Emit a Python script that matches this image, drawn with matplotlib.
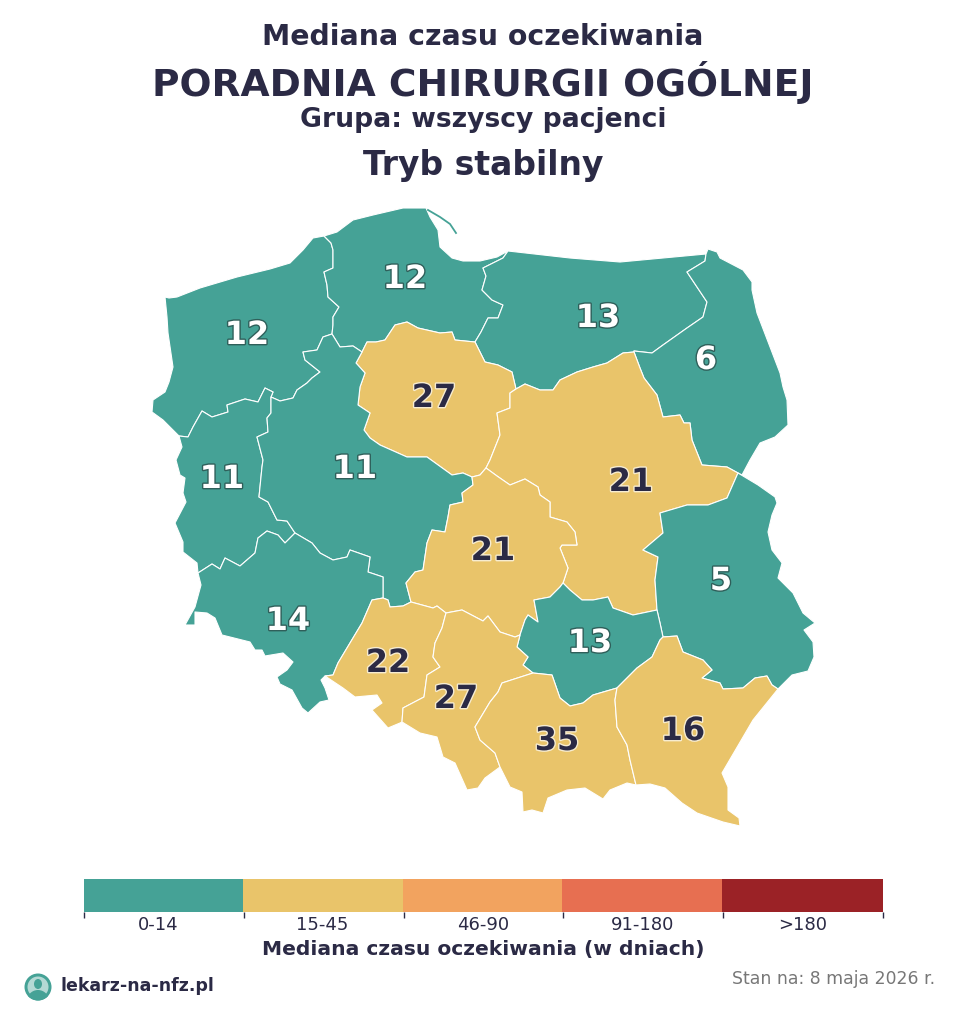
import matplotlib
matplotlib.use("Agg")
import matplotlib.pyplot as plt
import matplotlib.patheffects as pe
from matplotlib.cm import ScalarMappable
from matplotlib.colors import BoundaryNorm, ListedColormap
from matplotlib.patches import Circle, Ellipse, Wedge

DARK = "#2b2a45"
BIN_LABELS = ["0-14", "15-45", "46-90", "91-180", ">180"]
BIN_EDGES = [0, 15, 46, 91, 181, 400]
BIN_COLORS = ["#45a296", "#e9c46a", "#f2a35f", "#e76f51", "#9b2226"]
BIN_LABEL_POS = [0.465, 1.49, 2.5, 3.495, 4.5]

# border pieces, in picture pixels (y goes down)
coast_zach = [(324, 236), (313, 238), (303, 250), (290, 263), (270, 269), (237, 277), (200, 288), (177, 297),
              (169, 298), (165, 297), (167, 317), (168, 333), (173, 367), (169, 382), (165, 392), (153, 400),
              (152, 412), (163, 420), (179, 436)]
zach_pom = [(324, 236), (331, 243), (333, 250), (333, 268), (324, 272), (327, 285), (328, 297), (339, 307),
            (333, 317), (333, 325), (332, 334)]
zach_wlkp = [(332, 334), (323, 337), (317, 350), (303, 352), (305, 360), (320, 372), (312, 378), (307, 383),
             (297, 390), (293, 398), (280, 401), (271, 397)]
zach_lub = [(271, 397), (273, 392), (265, 388), (258, 402), (245, 399), (227, 405), (228, 412), (212, 417),
            (202, 411), (193, 427), (188, 437), (179, 436)]
coast_pom = [(324, 236), (337, 232), (353, 220), (373, 215), (403, 208), (426, 208), (430, 217), (438, 230),
             (440, 247), (452, 258), (463, 261), (480, 261), (497, 257), (508, 251)]
hel_line = [(428, 210), (440, 217), (450, 224), (456, 233)]
pom_warm = [(508, 251), (503, 258), (483, 268), (486, 276), (482, 290), (492, 300), (503, 305), (498, 318),
            (488, 318), (481, 332), (475, 342)]
pom_wlkp = [(332, 334), (340, 347), (353, 346), (362, 352)]
kuj_pom = [(362, 352), (367, 342), (376, 342), (385, 340), (395, 325), (407, 322), (418, 328), (440, 333),
           (452, 332), (455, 340), (475, 342)]
kuj_warm = [(475, 342), (480, 352), (485, 362), (498, 365), (512, 372), (516, 389)]
warm_north = [(508, 251), (570, 258), (620, 262), (706, 254)]
warm_maz = [(516, 389), (525, 384), (540, 390), (553, 390), (560, 380), (577, 372), (593, 367), (607, 363),
            (623, 353), (634, 352)]
warm_podl = [(706, 254), (705, 261), (687, 272), (697, 287), (707, 302), (703, 317), (687, 328), (663, 345),
             (652, 353), (634, 351)]
podl_east = [(706, 254), (708, 249), (717, 252), (720, 258), (743, 270), (752, 282), (752, 290), (757, 313),
             (780, 373), (783, 387), (787, 400), (788, 425), (775, 437), (760, 443), (750, 460), (742, 475),
             (738, 473)]
podl_maz = [(634, 352), (640, 368), (644, 378), (657, 395), (663, 417), (680, 415), (684, 423), (690, 423),
            (692, 440), (702, 465), (727, 467), (738, 473)]
kuj_maz = [(516, 389), (510, 393), (510, 408), (497, 413), (500, 435), (490, 460), (486, 468)]
kuj_wlkp = [(362, 352), (356, 363), (365, 373), (360, 387), (358, 405), (370, 413), (364, 430), (370, 438),
            (380, 445), (407, 457), (427, 457), (452, 475), (463, 473), (472, 477)]
kuj_lodz = [(472, 477), (480, 475), (486, 468)]
lodz_maz = [(486, 468), (497, 476), (510, 485), (525, 479), (538, 487), (540, 495), (550, 502), (550, 517),
            (567, 522), (575, 532), (577, 545), (562, 545), (560, 548), (568, 568), (563, 583)]
maz_lub = [(738, 473), (727, 498), (708, 505), (687, 505), (660, 513), (663, 533), (643, 550), (658, 557),
           (655, 580), (657, 610)]
swiet_maz = [(563, 583), (570, 590), (582, 600), (593, 600), (608, 597), (613, 608), (633, 615), (657, 610)]
wlkp_lodz = [(472, 477), (473, 485), (462, 493), (463, 502), (450, 505), (448, 517), (445, 532), (432, 530),
             (427, 543), (423, 570), (415, 572), (406, 583), (411, 602)]
lodz_opole = [(411, 602), (433, 608), (437, 606), (446, 613)]
lodz_slask = [(446, 613), (462, 610), (483, 621), (488, 616), (500, 632), (515, 637), (520, 635)]
lodz_swiet = [(520, 635), (525, 620), (528, 615), (538, 622), (534, 600), (550, 597), (560, 587), (563, 583)]
opole_wlkp = [(383, 598), (388, 600), (390, 607), (403, 606), (411, 602)]
wlkp_dol = [(295, 533), (312, 543), (320, 553), (333, 560), (347, 557), (350, 550), (370, 557), (368, 572),
            (383, 577), (383, 598)]
lub_wlkp = [(271, 397), (271, 413), (267, 418), (268, 432), (257, 437), (263, 460), (262, 467), (259, 497),
            (268, 502), (277, 520), (287, 521), (295, 533)]
lub_dol = [(295, 533), (285, 543), (278, 535), (267, 531), (258, 538), (255, 553), (240, 566), (225, 558),
           (220, 569), (212, 564), (198, 573)]
lub_west = [(179, 436), (182, 447), (176, 460), (180, 475), (185, 478), (183, 493), (186, 502), (175, 523),
            (183, 542), (183, 552), (197, 563), (198, 573)]
dol_south = [(198, 573), (201, 585), (195, 607), (185, 625), (195, 625), (195, 612), (207, 613), (215, 618),
             (222, 635), (250, 642), (255, 650), (262, 650), (265, 656), (283, 653), (293, 662), (287, 670),
             (277, 677), (280, 684), (292, 690), (302, 708), (308, 713), (320, 702), (329, 700), (325, 688),
             (321, 680), (325, 676)]
dol_opole = [(383, 598), (372, 600), (362, 623), (350, 643), (338, 663), (333, 675), (325, 676)]
opole_south = [(325, 676), (343, 688), (355, 697), (377, 695), (382, 703), (372, 710), (388, 728), (400, 723),
               (402, 722)]
opole_slask = [(446, 613), (442, 628), (435, 643), (433, 657), (440, 667), (427, 675), (424, 697), (403, 708),
               (402, 722)]
slask_south = [(402, 722), (420, 733), (437, 737), (443, 757), (455, 763), (467, 790), (478, 788), (485, 778),
               (500, 767)]
slask_swiet = [(520, 635), (517, 647), (528, 657), (523, 665), (533, 673)]
slask_malop = [(533, 673), (502, 683), (498, 692), (490, 702), (475, 727), (480, 740), (495, 753), (500, 767)]
malop_swiet = [(533, 673), (552, 675), (560, 698), (570, 706), (583, 703), (593, 695), (617, 688)]
malop_podk = [(617, 688), (615, 700), (617, 727), (627, 745), (630, 760), (636, 785)]
malop_south = [(500, 767), (503, 773), (510, 787), (522, 792), (523, 812), (532, 810), (543, 813), (548, 798),
               (567, 790), (585, 788), (603, 799), (610, 790), (627, 783), (636, 785)]
swiet_podk = [(617, 688), (637, 668), (652, 657), (660, 640), (663, 637)]
swiet_lub = [(657, 610), (660, 623), (663, 637)]
podk_lub = [(663, 637), (677, 636), (683, 652), (703, 660), (712, 670), (702, 678), (720, 683), (723, 689),
            (743, 688), (755, 678), (767, 676), (772, 685), (778, 689)]
podk_south = [(778, 689), (753, 720), (722, 773), (728, 787), (728, 810), (739, 818), (740, 826), (723, 822),
              (697, 813), (682, 803), (665, 788), (650, 784), (636, 785)]
lub_east = [(738, 473), (758, 485), (775, 497), (777, 503), (772, 515), (768, 532), (772, 550), (782, 563),
            (778, 578), (793, 593), (803, 613), (815, 623), (804, 630), (813, 642), (814, 657), (808, 671),
            (792, 675), (778, 689)]


def rev(seg):
    return seg[::-1]


region_rings = [
    coast_zach + rev(zach_lub) + rev(zach_wlkp) + rev(zach_pom),
    coast_pom + pom_warm + rev(kuj_pom) + rev(pom_wlkp) + rev(zach_pom),
    warm_north + warm_podl + rev(warm_maz) + rev(kuj_warm) + rev(pom_warm),
    podl_east + rev(podl_maz) + rev(warm_podl),
    kuj_pom + kuj_warm + kuj_maz + rev(kuj_lodz) + rev(kuj_wlkp),
    warm_maz + podl_maz + maz_lub + rev(swiet_maz) + rev(lodz_maz) + rev(kuj_maz),
    lub_west + rev(lub_dol) + rev(lub_wlkp) + zach_lub,
    pom_wlkp + kuj_wlkp + wlkp_lodz + rev(opole_wlkp) + rev(wlkp_dol) + rev(lub_wlkp) + rev(zach_wlkp),
    kuj_lodz + lodz_maz + rev(lodz_swiet) + rev(lodz_slask) + rev(lodz_opole) + rev(wlkp_lodz),
    lub_east + rev(podk_lub) + rev(swiet_lub) + rev(maz_lub),
    lub_dol + dol_south + rev(dol_opole) + rev(wlkp_dol),
    lodz_swiet + swiet_maz + swiet_lub + rev(swiet_podk) + rev(malop_swiet) + rev(slask_swiet),
    opole_wlkp + lodz_opole + opole_slask + rev(opole_south) + rev(dol_opole),
    rev(opole_slask) + lodz_slask + slask_swiet + slask_malop + rev(slask_south),
    malop_swiet + malop_podk + rev(malop_south) + rev(slask_malop),
    swiet_podk + podk_lub + podk_south + rev(malop_podk),
]
region_values = [12, 12, 13, 6, 27, 21, 11, 11, 21, 5, 14, 13, 22, 27, 35, 16]
label_x = [247, 405, 598, 706, 434, 631, 222, 355, 493, 721, 288, 590, 388, 456, 557, 683]
label_y = [332, 276, 315, 357, 395, 479, 476, 466, 548, 578, 618, 640, 660, 696, 738, 728]

norm = BoundaryNorm(BIN_EDGES, len(BIN_COLORS))
cmap = ListedColormap(BIN_COLORS)

fig = plt.figure(figsize=(9.6, 10.25), dpi=100)
ax = fig.add_axes([0, 0, 1, 1])
ax.set_xlim(0, 960)
ax.set_ylim(1025, 0)
ax.axis("off")

for ring, value in zip(region_rings, region_values):
    xs, ys = zip(*ring)
    ax.fill(xs, ys, facecolor=cmap(norm(value)), edgecolor="white", linewidth=0.8, joinstyle="round", zorder=2)

hel_x, hel_y = zip(*hel_line)
ax.plot(hel_x, hel_y, color=BIN_COLORS[0], linewidth=1.3, zorder=3)

for x, y, value in zip(label_x, label_y, region_values):
    on_teal = value < 15
    ax.text(x, y, str(value), ha="center", va="center_baseline", fontsize=23, fontweight="bold",
            color="white" if on_teal else DARK, zorder=4,
            path_effects=[pe.withStroke(linewidth=2, foreground="#2f5f5a" if on_teal else "#f7ecd0")])

ax.text(483, 37, "Mediana czasu oczekiwania", ha="center", va="center", fontsize=20.4, fontweight="bold", color=DARK)
ax.text(483, 82, "PORADNIA CHIRURGII OGÓLNEJ", ha="center", va="center", fontsize=27.1, fontweight="bold", color=DARK)
ax.text(483, 120, "Grupa: wszyscy pacjenci", ha="center", va="center", fontsize=19.2, fontweight="bold", color=DARK)
ax.text(483, 165, "Tryb stabilny", ha="center", va="center", fontsize=23.8, fontweight="bold", color=DARK)

# legend bar
cax = fig.add_axes([84 / 960, 1 - 912 / 1025, 799 / 960, 33 / 1025])
cbar_norm = BoundaryNorm(range(6), 5)
cb = fig.colorbar(ScalarMappable(norm=cbar_norm, cmap=cmap), cax=cax, orientation="horizontal", spacing="uniform")
cb.outline.set_visible(False)
cb.solids.set_edgecolor("face")
cax.set_xticks(range(6))
cax.set_xticklabels([])
cax.tick_params(axis="x", which="major", length=4, width=1, color=DARK)
cax.set_xticks(BIN_LABEL_POS, labels=BIN_LABELS, minor=True)
cax.tick_params(axis="x", which="minor", length=0, labelsize=13, labelcolor=DARK, pad=3)

ax.text(483, 949, "Mediana czasu oczekiwania (w dniach)", ha="center", va="center", fontsize=14.6,
        fontweight="bold", color=DARK)

# logo
logo_clip = Circle((38, 987), 13.5, facecolor="#45a296", edgecolor="none")
ax.add_patch(logo_clip)
ax.add_patch(Circle((38, 987), 10.5, facecolor="white", edgecolor="none", alpha=0.6))
body = Wedge((38, 1001), 11, 180, 360, facecolor="#45a296", edgecolor="none")
ax.add_patch(body)
body.set_clip_path(logo_clip)
ax.add_patch(Ellipse((38, 984), 8, 10, facecolor="#45a296", edgecolor="none"))

ax.text(60, 986, "lekarz-na-nfz.pl", ha="left", va="center", fontsize=12.5, fontweight="bold", color=DARK)
ax.text(935, 979, "Stan na: 8 maja 2026 r.", ha="right", va="center", fontsize=12.45, color="#777777")

fig.savefig("out.png", dpi=100, facecolor="white")
